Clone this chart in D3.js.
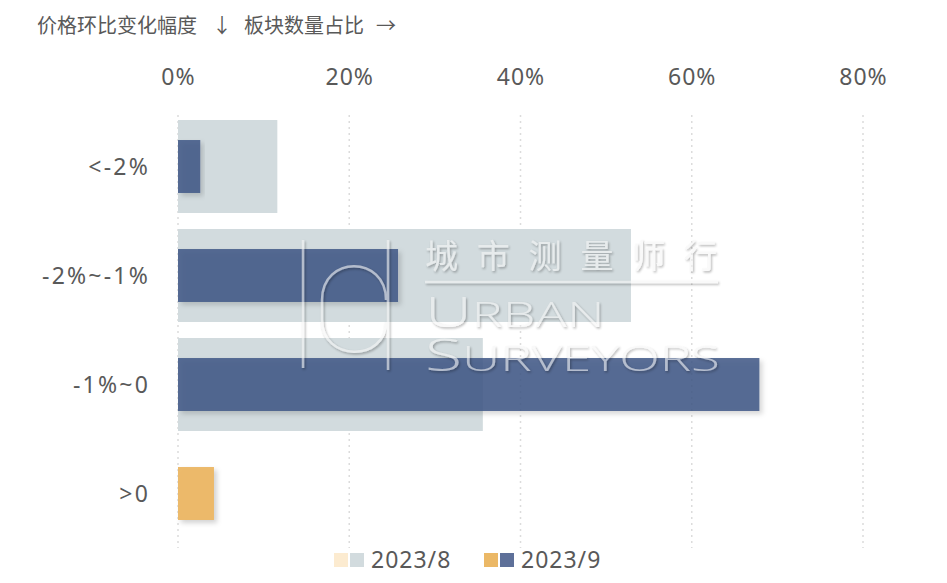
<!DOCTYPE html>
<html><head><meta charset="utf-8">
<script src="https://cdn.jsdelivr.net/npm/d3@7"></script>
<style>
body{margin:0;background:#fff;}
svg{display:block;font-family:"Noto Sans","Noto Sans CJK SC",sans-serif;}
</style></head>
<body><svg id="c" width="947" height="583"></svg>
<script>
const categories = ["<-2%", "-2%~-1%", "-1%~0", ">0"];
const positive = [false, false, false, true];
const aug = [11.6, 52.9, 35.6, 0];
const sep = [2.6, 25.7, 67.9, 4.2];
const xTicks = [0, 20, 40, 60, 80];
const seriesNames = ["2023/8", "2023/9"];
const titleParts = ["价格环比变化幅度", "↓", "板块数量占比", "→"];

const svg = d3.select("#c");
const defs = svg.append("defs");
const f = defs.append("filter").attr("id","sh").attr("x","-10%").attr("y","-20%").attr("width","130%").attr("height","150%");
f.append("feDropShadow").attr("dx",3).attr("dy",3).attr("stdDeviation",2.5).attr("flood-color","#000").attr("flood-opacity",0.18);
const wf = defs.append("filter").attr("id","emb").attr("x","-5%").attr("y","-20%").attr("width","110%").attr("height","150%");
wf.append("feDropShadow").attr("dx",1.2).attr("dy",1.5).attr("stdDeviation",0.9).attr("flood-color","#000").attr("flood-opacity",0.5);

const x = d3.scaleLinear().domain([0,80]).range([178,863]);
const y = d3.scaleBand().domain(categories).range([112,548]);

const tg = svg.append("g").attr("font-size",20).attr("fill","#595959");
const tx = [37, 212, 244, 376];
titleParts.forEach((t,i)=>tg.append("text").attr("x",tx[i]).attr("y",33).text(t));

// grid
svg.append("g").selectAll("line").data(xTicks).join("line")
  .attr("x1",d=>x(d)).attr("x2",d=>x(d)).attr("y1",115).attr("y2",548)
  .attr("stroke","#dcdcdc").attr("stroke-width",1.5).attr("stroke-dasharray","2,4");

// x axis labels
const xa = svg.append("g").attr("transform","translate(0,85)")
  .call(d3.axisTop(x).tickValues(xTicks).tickFormat(d=>d+"%").tickSize(0).tickPadding(0));
xa.select(".domain").remove();
xa.selectAll("text").attr("font-size",23).attr("letter-spacing",1).attr("fill","#595959").attr("font-family","Noto Sans, sans-serif");

// y labels
const ya = svg.append("g").attr("transform","translate(150,0)")
  .call(d3.axisLeft(y).tickSize(0).tickPadding(0));
ya.select(".domain").remove();
ya.selectAll("text").attr("font-size",23).attr("letter-spacing",2.2).attr("fill","#595959").attr("font-family","Noto Sans, sans-serif").attr("dy","0.35em");

const step = y.bandwidth();
const bgH = step*0.853, fgH = step*0.486;
const cy = d => y(d) + step/2;

svg.append("g").selectAll("rect").data(categories.map((c,i)=>({c,v:aug[i],p:positive[i]}))).join("rect")
  .attr("x",x(0)).attr("y",d=>cy(d.c)-bgH/2).attr("height",bgH)
  .attr("width",d=>x(d.v)-x(0)).attr("fill",d=>d.p?"#fcebd0":"#d2dbde");

svg.append("g").selectAll("rect").data(categories.map((c,i)=>({c,v:sep[i],p:positive[i]}))).join("rect")
  .attr("x",x(0)).attr("y",d=>cy(d.c)-fgH/2).attr("height",fgH)
  .attr("width",d=>x(d.v)-x(0)).attr("fill",d=>d.p?"#ebb866":"#3f5786").attr("fill-opacity",d=>d.p?0.97:0.86)
  .attr("filter","url(#sh)");

// watermark
const wm = svg.append("g").attr("opacity",0.6).attr("filter","url(#emb)");
const wc = "#f6f6f6";
wm.append("text").attr("x",425).attr("y",268).attr("font-size",33).attr("fill",wc)
  .attr("font-family","Noto Sans CJK SC").attr("textLength",292).attr("lengthAdjust","spacing").text("城市测量师行");
wm.append("line").attr("x1",425).attr("x2",718).attr("y1",282).attr("y2",282).attr("stroke",wc).attr("stroke-width",2.5);
// English logo text: one text element, two lines, stretched horizontally
const l1 = [["U",43],["RBAN",34]], l2 = [["S",45],["URVEYORS",35]];
const eg = wm.append("g").attr("transform","translate(425,0)");
const et = eg.append("text").attr("fill",wc).attr("font-family","Open Sans, Lato, sans-serif").attr("font-weight",300);
const t1 = l1.map((p,i)=>et.append("tspan").attr("font-size",p[1]).attr("x",i===0?0:null).attr("y",i===0?327:null).text(p[0]));
const t2 = l2.map((p,i)=>et.append("tspan").attr("font-size",p[1]).attr("x",i===0?0:null).attr("y",i===0?371:null).text(p[0]));
const w1 = t1.reduce((s,t)=>s+t.node().getComputedTextLength(),0);
const w2 = t2.reduce((s,t)=>s+t.node().getComputedTextLength(),0);
const sx = 295 / w2;
const extra = (180 / sx - w1) / 4;
t1[1].attr("letter-spacing", extra);
eg.attr("transform", `translate(425,0) scale(${sx},1)`);
wm.append("path").attr("d","M303,240 L303,368 M388,240 L388,370 M386,300 C386,255 322,255 322,300 L322,320 C322,362 386,362 386,322")
  .attr("fill","none").attr("stroke",wc).attr("stroke-width",2.5);

// legend
const lg = svg.append("g");
const legendItems = [{n:seriesNames[0],c:["#fcebd0","#d2dbde"],x:334},{n:seriesNames[1],c:["#ebb866","#5e7099"],x:484}];
legendItems.forEach(it=>{
  lg.append("rect").attr("x",it.x).attr("y",553).attr("width",14).attr("height",14).attr("fill",it.c[0]);
  lg.append("rect").attr("x",it.x+16).attr("y",553).attr("width",14).attr("height",14).attr("fill",it.c[1]);
  lg.append("text").attr("x",it.x+37).attr("y",568).attr("font-size",23).attr("letter-spacing",1).attr("fill","#595959").text(it.n);
});
</script></body></html>
